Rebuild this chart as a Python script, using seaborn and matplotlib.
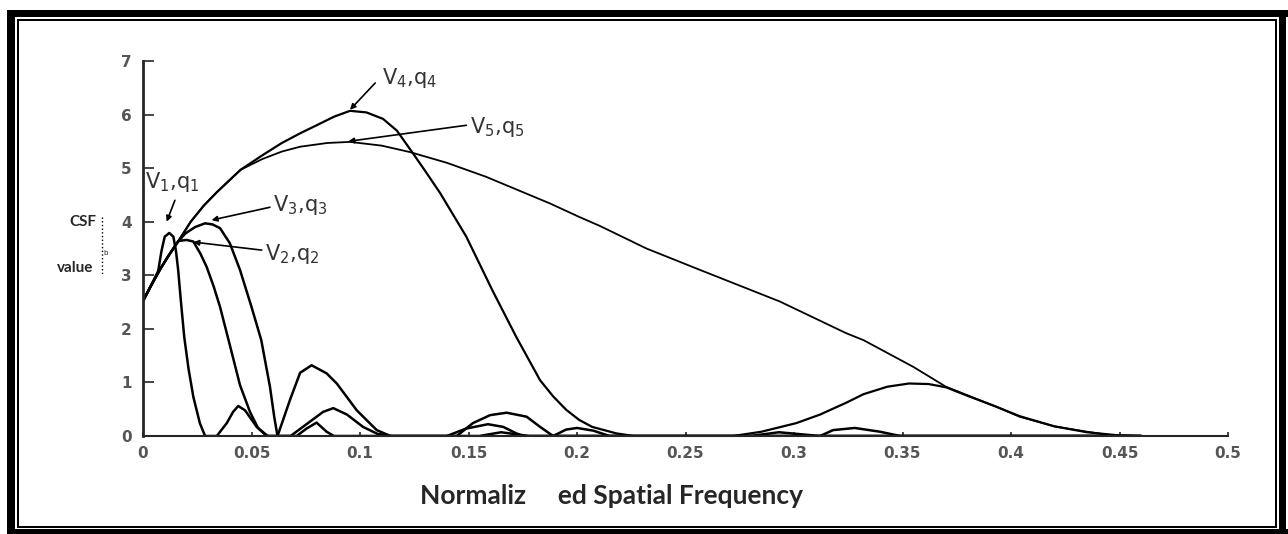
import matplotlib
matplotlib.use("Agg")
import matplotlib.pyplot as plt
from matplotlib.patches import Rectangle
from matplotlib.lines import Line2D
import pandas as pd
import seaborn as sns

sns.set_style("ticks")
plt.rcParams["font.family"] = ["DejaVu Sans"]
plt.rcParams["mathtext.default"] = "regular"

# ------------------ dados ------------------ #

v1_x = [0, 0.004, 0.007, 0.0085, 0.0100, 0.0121, 0.0140, 0.0152, 0.0162, 0.0175,
        0.0190, 0.0210, 0.0232, 0.0262, 0.0286, 0.034, 0.0386, 0.0415, 0.0439, 0.047,
        0.0524, 0.057, 0.0708, 0.0754, 0.080, 0.0846, 0.088, 0.155, 0.165, 0.178, 0.46]
v1_y = [2.52, 2.83, 3.08, 3.45, 3.72, 3.79, 3.72, 3.45, 3.10, 2.50,
        1.85, 1.25, 0.73, 0.24, 0.0, 0.0, 0.24, 0.45, 0.56, 0.48,
        0.17, 0.0, 0.0, 0.14, 0.25, 0.08, 0.0, 0.0, 0.07, 0.0, 0.0]

v2_x = [0, 0.004, 0.008, 0.012, 0.0163, 0.020, 0.0232, 0.0265, 0.0293, 0.0325,
        0.0355, 0.040, 0.0447, 0.0493, 0.053, 0.0575, 0.068, 0.072, 0.078, 0.083,
        0.0877, 0.094, 0.1014, 0.108, 0.114, 0.140, 0.149, 0.159, 0.166, 0.172,
        0.175, 0.28, 0.293, 0.312, 0.46]
v2_y = [2.52, 2.83, 3.12, 3.38, 3.64, 3.66, 3.63, 3.40, 3.16, 2.80,
        2.41, 1.70, 0.95, 0.45, 0.15, 0.0, 0.0, 0.12, 0.30, 0.45,
        0.52, 0.40, 0.17, 0.04, 0.0, 0.0, 0.14, 0.22, 0.17, 0.05,
        0.0, 0.0, 0.07, 0.0, 0.0]

v3_x = [0, 0.004, 0.008, 0.012, 0.016, 0.0195, 0.024, 0.0286, 0.032, 0.0355,
        0.040, 0.0447, 0.050, 0.0545, 0.0585, 0.0605, 0.062, 0.0677, 0.0724, 0.0777,
        0.0846, 0.0893, 0.0985, 0.1077, 0.114, 0.1446, 0.152, 0.160, 0.1676, 0.1768,
        0.183, 0.189, 0.195, 0.200, 0.2075, 0.215, 0.312, 0.318, 0.328, 0.3396,
        0.349, 0.46]
v3_y = [2.52, 2.83, 3.12, 3.38, 3.62, 3.78, 3.90, 3.97, 3.95, 3.88,
        3.60, 3.10, 2.41, 1.79, 0.92, 0.35, 0.0, 0.67, 1.18, 1.32,
        1.17, 0.98, 0.48, 0.11, 0.0, 0.0, 0.24, 0.39, 0.435, 0.36,
        0.17, 0.0, 0.12, 0.15, 0.10, 0.0, 0.0, 0.11, 0.15, 0.08,
        0.0, 0.0]

v4_x = [0, 0.004, 0.008, 0.012, 0.016, 0.022, 0.028, 0.034, 0.040, 0.045,
        0.055, 0.064, 0.0724, 0.080, 0.088, 0.0954, 0.103, 0.1106, 0.117, 0.124,
        0.130, 0.137, 0.149, 0.161, 0.172, 0.183, 0.189, 0.195, 0.201, 0.207,
        0.218, 0.226, 0.272, 0.285, 0.301, 0.312, 0.324, 0.332, 0.343, 0.353,
        0.362, 0.370, 0.380, 0.393, 0.404, 0.420, 0.435, 0.450, 0.46]
v4_y = [2.52, 2.83, 3.12, 3.38, 3.62, 4.00, 4.30, 4.55, 4.78, 4.97,
        5.24, 5.47, 5.65, 5.80, 5.96, 6.07, 6.04, 5.92, 5.70, 5.30,
        4.95, 4.53, 3.72, 2.72, 1.85, 1.04, 0.74, 0.49, 0.30, 0.17,
        0.05, 0.0, 0.0, 0.08, 0.24, 0.40, 0.62, 0.78, 0.92, 0.98,
        0.97, 0.91, 0.75, 0.55, 0.37, 0.18, 0.07, 0.01, 0.0]

v5_x = [0, 0.004, 0.008, 0.012, 0.016, 0.022, 0.028, 0.034, 0.040, 0.045,
        0.055, 0.064, 0.0724, 0.085, 0.0954, 0.110, 0.123, 0.140, 0.158, 0.1876,
        0.201, 0.2106, 0.232, 0.2567, 0.2935, 0.324, 0.332, 0.355, 0.370, 0.393,
        0.404, 0.420, 0.435, 0.445, 0.46]
v5_y = [2.52, 2.83, 3.12, 3.38, 3.62, 4.00, 4.30, 4.55, 4.78, 4.97,
        5.17, 5.31, 5.40, 5.47, 5.49, 5.42, 5.30, 5.10, 4.84, 4.34,
        4.09, 3.92, 3.50, 3.10, 2.51, 1.92, 1.79, 1.29, 0.92, 0.55,
        0.36, 0.18, 0.08, 0.02, 0.0]

curve_names = ["V1", "V2", "V3", "V4", "V5"]
curve_labels = [r"V$_{1}$,q$_{1}$", r"V$_{2}$,q$_{2}$", r"V$_{3}$,q$_{3}$",
                r"V$_{4}$,q$_{4}$", r"V$_{5}$,q$_{5}$"]

x_ticks = [0, 0.05, 0.1, 0.15, 0.2, 0.25, 0.3, 0.35, 0.4, 0.45, 0.5]
x_tick_labels = ["0", "0.05", "0.1", "0.15", "0.2", "0.25", "0.3", "0.35", "0.4", "0.45", "0.5"]
y_ticks = [0, 1, 2, 3, 4, 5, 6, 7]

# ------------------ figura ------------------ #

W, H = 1288, 534
fig = plt.figure(figsize=(W / 100, H / 100), dpi=100)
ax = fig.add_axes([143 / W, 1 - 436 / H, (1228 - 143) / W, (436 - 61) / H])

dados = pd.concat([
    pd.DataFrame({"freq": xs, "csf": ys, "curva": nome})
    for nome, xs, ys in zip(curve_names,
                            [v1_x, v2_x, v3_x, v4_x, v5_x],
                            [v1_y, v2_y, v3_y, v4_y, v5_y])
])

larguras = {"V1": 1.8, "V2": 1.8, "V3": 1.8, "V4": 1.6, "V5": 1.3}
for nome in curve_names:
    sns.lineplot(data=dados[dados["curva"] == nome], x="freq", y="csf",
                 estimator=None, sort=False, color="black",
                 lw=larguras[nome], ax=ax, legend=False)

ax.set_xlim(0, 0.5)
ax.set_ylim(0, 7)
ax.set_xticks(x_ticks)
ax.set_xticklabels(x_tick_labels)
ax.set_yticks(y_ticks)
ax.set_xlabel("")
ax.set_ylabel("")
for lbl in ax.get_xticklabels() + ax.get_yticklabels():
    lbl.set_fontweight("bold")
    lbl.set_color("#555555")
    lbl.set_fontsize(11)
ax.tick_params(axis="y", direction="in", length=8, width=1.2, pad=8)
ax.tick_params(axis="x", direction="in", length=3, width=1.2, pad=7)
sns.despine(ax=ax)
ax.spines["left"].set_linewidth(2)
ax.spines["bottom"].set_linewidth(1.5)

# rótulos com setas
setas = [
    (curve_labels[0], (0.001, 4.74), (0.0147, 4.40), (0.0109, 4.00)),
    (curve_labels[1], (0.056, 3.40), (0.0547, 3.47), (0.0232, 3.62)),
    (curve_labels[2], (0.060, 4.31), (0.0585, 4.27), (0.0316, 4.03)),
    (curve_labels[3], (0.110, 6.68), (0.107, 6.59), (0.0954, 6.09)),
    (curve_labels[4], (0.1507, 5.76), (0.149, 5.80), (0.0946, 5.50)),
]
for texto, pos, ini, ponta in setas:
    ax.annotate("", xy=ponta, xytext=ini,
                arrowprops=dict(arrowstyle="-|>", color="black", lw=1.2,
                                mutation_scale=8, shrinkA=0, shrinkB=0))
    ax.text(pos[0], pos[1], texto, ha="left", va="center", fontsize=15,
            color="#333333", clip_on=False)

# rótulos do eixo (texto solto na página)
fig.text(83 / W, 1 - 222 / H, "CSF", ha="center", va="center",
         family="Lato", fontweight="bold", fontsize=11)
fig.text(75 / W, 1 - 268 / H, "value", ha="center", va="center",
         family="Lato", fontweight="bold", fontsize=11)
fig.text(106 / W, 1 - 253 / H, "b", ha="center", va="center", fontsize=5)
fig.add_artist(Line2D([102 / W, 102 / W], [1 - 217 / H, 1 - 276 / H],
                      ls=":", lw=1, color="black", transform=fig.transFigure))
fig.text(611 / W, 1 - 496 / H, "Normaliz     ed Spatial Frequency",
         ha="center", va="center", family="Lato", fontweight="bold", fontsize=19)


# moldura dupla da página
def retangulo(x0, y0, x1, y1):
    fig.add_artist(Rectangle((x0 / W, 1 - y1 / H), (x1 - x0) / W, (y1 - y0) / H,
                             transform=fig.transFigure, facecolor="black", lw=0))


retangulo(7, 10, 15, 534)
retangulo(7, 10, 1288, 17)
retangulo(7, 529, 1288, 534)
retangulo(1279, 10, 1286, 534)
retangulo(17, 19, 19, 528)
retangulo(17, 19, 1277, 21)
retangulo(17, 526, 1277, 528)
retangulo(1275, 19, 1277, 528)

fig.savefig("out.png", dpi=100)
